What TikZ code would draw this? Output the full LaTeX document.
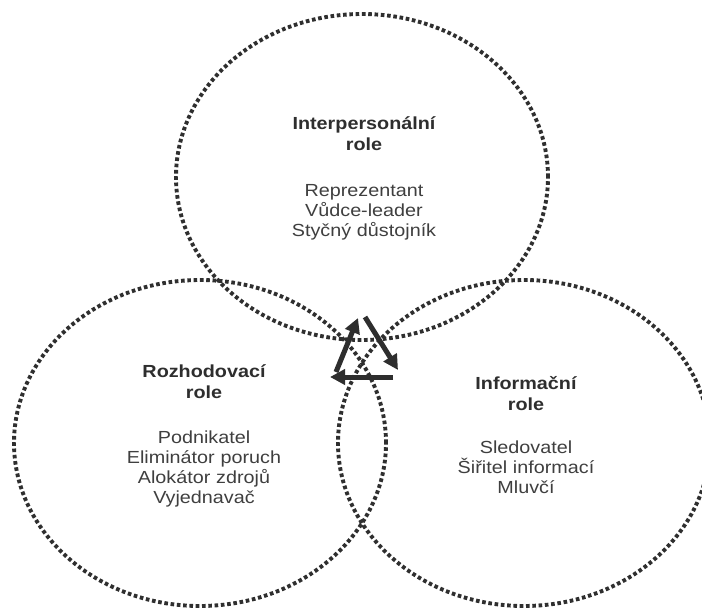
\documentclass[tikz,border=0pt]{standalone}
\usepackage{fontspec}
\setmainfont{Liberation Sans}[FakeStretch=1.13]
\usetikzlibrary{arrows.meta}
\definecolor{ink}{HTML}{2E2E2E}
\definecolor{dotc}{HTML}{2F2F2F}
\begin{document}
\begin{tikzpicture}[x=1pt,y=-1pt,
  ring/.style={draw=dotc, line width=3.9pt, dash pattern=on 3.6pt off 2.7pt},
  headtxt/.style={font=\bfseries\fontsize{17.5}{21.5}\selectfont, text=ink, text width=220pt, align=center, anchor=base, inner sep=0pt},
  itemtxt/.style={font=\fontsize{17.5}{20}\selectfont, text=ink!92, text width=220pt, align=center, anchor=base, inner sep=0pt},
  cyc/.style={draw=ink, line width=5pt, -{Triangle[length=15pt,width=15pt]}}]
\useasboundingbox[fill=white] (0,0) rectangle (702,610);
\begin{scope}
  \clip (0,0) rectangle (702,610);
  \draw[ring] (362,177) ellipse [x radius=186pt, y radius=163pt];
  \draw[ring] (200,443) ellipse [x radius=186pt, y radius=163pt];
  \draw[ring] (524,443) ellipse [x radius=186pt, y radius=163pt];
\end{scope}
% texts
\node[headtxt] (th) at (364,129) {Interpersonální\\role};
\node[itemtxt] (ti) at (364,196) {Reprezentant\\Vůdce-leader\\Styčný důstojník};
\node[headtxt] (lh) at (204,377) {Rozhodovací\\role};
\node[itemtxt] (li) at (204,443) {Podnikatel\\Eliminátor poruch\\Alokátor zdrojů\\Vyjednavač};
\node[headtxt] (rh) at (526,389) {Informační\\role};
\node[itemtxt] (ri) at (526,453) {Sledovatel\\Šiřitel informací\\Mluvčí};
% cycle arrows
\coordinate (a1s) at (336,372);
\coordinate (a1e) at (358,318);
\coordinate (a2s) at (365,317);
\coordinate (a2e) at (398,370);
\coordinate (a3s) at (393,377);
\coordinate (a3e) at (330,377);
\draw[cyc] (a1s) -- (a1e);
\draw[cyc] (a2s) -- (a2e);
\draw[cyc] (a3s) -- (a3e);
\end{tikzpicture}
\end{document}
